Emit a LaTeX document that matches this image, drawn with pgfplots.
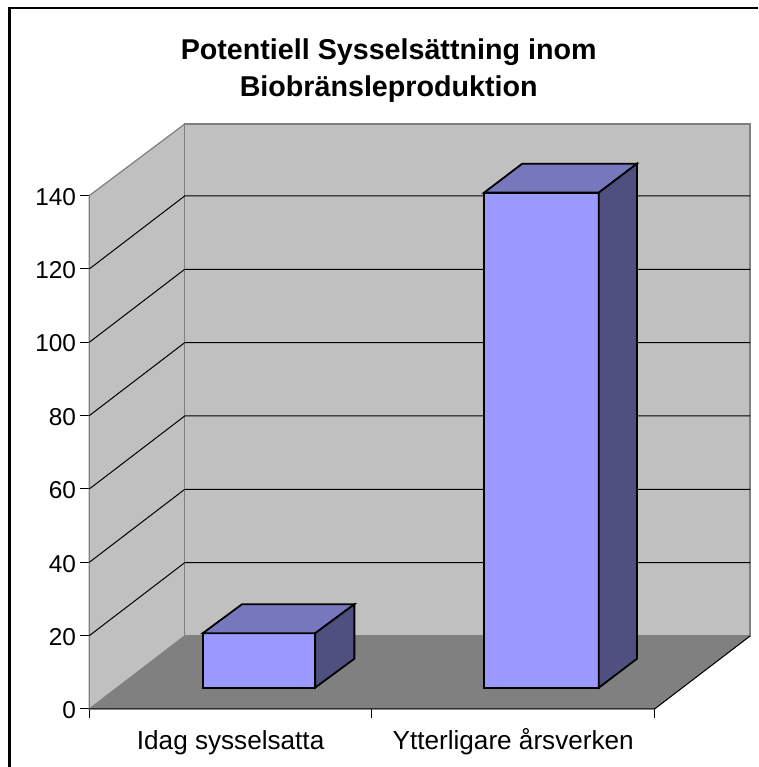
\documentclass[border=0pt]{standalone}
\usepackage{fontspec}
\setmainfont{Liberation Sans}
\usepackage{pgfplots}
\pgfplotsset{compat=1.18}
\definecolor{wall}{HTML}{C0C0C0}
\definecolor{floorc}{HTML}{808080}
\definecolor{barfront}{HTML}{9999FF}
\definecolor{bartop}{HTML}{7777BD}
\definecolor{barside}{HTML}{4F4F80}
\begin{document}
\begin{tikzpicture}
\path[use as bounding box] (0,0) rectangle (568.5pt,575.25pt);
\draw[black,line width=1.8pt] (7pt,0) -- (7pt,569.25pt) -- (568.5pt,569.25pt);
\node[anchor=base,font=\fontsize{21.5pt}{24pt}\selectfont\bfseries] at (291.5pt,530.5pt) {Potentiell Sysselsättning inom};
\node[anchor=base,font=\fontsize{21.5pt}{24pt}\selectfont\bfseries] at (291.5pt,502.5pt) {Biobränsleproduktion};
\begin{axis}[
  at={(67pt,43.5pt)}, anchor=south west,
  scale only axis, width=495.5pt, height=438.7pt,
  xmin=0, xmax=2.338, ymin=0, ymax=159.5,
  clip=false, axis on top=false,
  axis lines=left,
  axis line style={-,draw=none},
  tick align=outside,
  major tick length=6.75pt, minor tick length=6.75pt,
  tick style={black,line width=0.75pt},
  xtick={0.5,1.5}, minor xtick={0,1,2},
  major x tick style={draw=none},
  xticklabels={Idag sysselsatta,Ytterligare årsverken},
  ytick={0,20,...,140},
  /pgf/number format/assume math mode=true,
  y tick label style={font=\fontsize{18.3pt}{20pt}\selectfont,inner sep=0pt,xshift=-3pt,yshift=-1pt},
  x tick label style={font=\fontsize{19.6pt}{22pt}\selectfont,inner sep=0pt,yshift=-23.5pt,anchor=base,text height=0pt},
]
% floor and walls
\addplot[draw=floorc,fill=wall,line width=0.9pt] coordinates {(0,0) (0.3376,19.9) (0.3376,159.5) (0,140)} --cycle;
\addplot[draw=floorc,fill=wall,line width=0.9pt] coordinates {(0.3376,19.9) (2.338,19.9) (2.338,159.5) (0.3376,159.5)} --cycle;
\addplot[draw=floorc,fill=floorc,line width=0.6pt] coordinates {(0,0) (0.3376,19.9) (2.338,19.9) (2,0)} --cycle;
% gridlines
\foreach \v/\w in {20/39.9,40/59.9,60/79.9,80/99.9,100/119.9,120/139.9}{
  \edef\tmp{\noexpand\addplot[black,line width=0.75pt] coordinates {(0,\v) (0.3376,\w) (2.338,\w)};}
  \tmp
}
% front edge lines
\addplot[black,line width=0.75pt] coordinates {(0,0) (2,0) (2.338,19.9)};
% bar 1 (value about 15)
\addplot[draw=black,fill=barfront,line width=1.35pt] coordinates {(0.401,5.81) (0.799,5.81) (0.799,20.64) (0.401,20.64)} --cycle;
\addplot[draw=black,fill=bartop,line width=1.35pt] coordinates {(0.401,20.64) (0.799,20.64) (0.938,28.55) (0.540,28.55)} --cycle;
\addplot[draw=black,fill=barside,line width=1.35pt] coordinates {(0.799,5.81) (0.938,13.72) (0.938,28.55) (0.799,20.64)} --cycle;
% bar 2 (value about 135)
\addplot[draw=black,fill=barfront,line width=1.35pt] coordinates {(1.397,5.81) (1.803,5.81) (1.803,140.8) (1.397,140.8)} --cycle;
\addplot[draw=black,fill=bartop,line width=1.35pt] coordinates {(1.397,140.8) (1.803,140.8) (1.938,148.7) (1.532,148.7)} --cycle;
\addplot[draw=black,fill=barside,line width=1.35pt] coordinates {(1.803,5.81) (1.938,13.71) (1.938,148.7) (1.803,140.8)} --cycle;
\end{axis}
\end{tikzpicture}
\end{document}
